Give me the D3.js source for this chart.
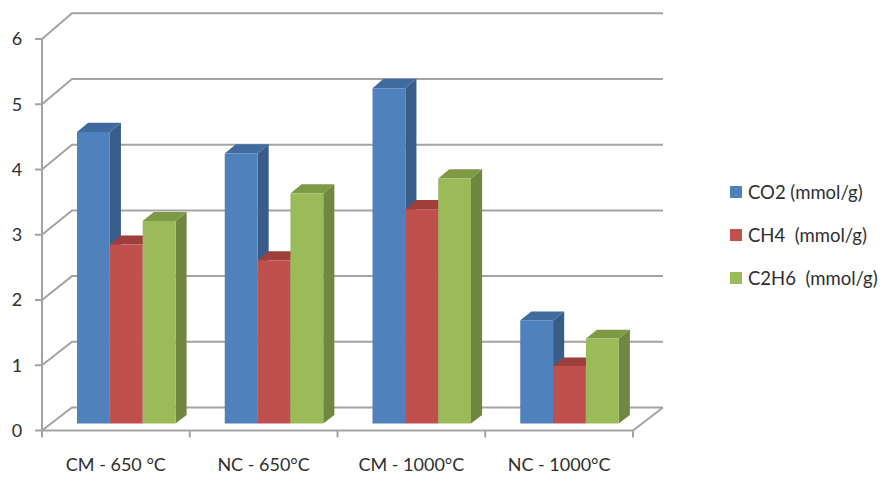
<!DOCTYPE html>
<html>
<head>
<meta charset="utf-8">
<script src="https://cdn.jsdelivr.net/npm/d3@7"></script>
<style>
  html, body { margin: 0; padding: 0; background: #fff; }
  svg { display: block; font-family: Lato, "Open Sans", sans-serif; }
</style>
</head>
<body>
<svg id="chart" width="882" height="477"></svg>
<script>
// Gas yields per sample (mmol/g)
const categories = ["CM - 650 °C", "NC - 650°C", "CM - 1000°C", "NC - 1000°C"];
const seriesNames = ["CO2 (mmol/g)", "CH4  (mmol/g)", "C2H6  (mmol/g)"];
const co2 = [4.46, 4.13, 5.13, 1.58];
const ch4 = [2.74, 2.50, 3.28, 0.88];
const c2h6 = [3.10, 3.52, 3.75, 1.30];
const yTicks = [0, 1, 2, 3, 4, 5, 6];

const seriesValues = [co2, ch4, c2h6];
const palette = [
  { front: "#4F81BD", side: "#385D8A", top: "#3F6B9F" },
  { front: "#C0504D", side: "#8C3A38", top: "#9E3F3C" },
  { front: "#9BBB59", side: "#6F873E", top: "#7E9A45" }
];

const svg = d3.select("#chart");

// Front plane and back wall of the 3D box
const x = d3.scaleBand().domain(categories).range([42, 633]);
const y = d3.scaleLinear().domain([0, 6]).range([430.5, 39]);
const yBack = d3.scaleLinear().domain([0, 6]).range([407.5, 13.3]);
const depthX = d3.scaleLinear().domain([0, 1]).range([0, 30]);

// point at value v, front-plane x position px, depth fraction d (0 = front, 1 = back)
function proj(px, v, d) {
  return [px + depthX(d), y(v) + d * (yBack(v) - y(v))];
}

const gridColor = "#A3A3A3";
const textColor = "#2e2e2e";

// back wall gridlines and side-wall diagonals
const grid = svg.append("g").attr("stroke", gridColor).attr("stroke-width", 2).attr("fill", "none");
yTicks.forEach(t => {
  const a = proj(42, t, 0), b = proj(42, t, 1), c = proj(633, t, 1);
  grid.append("path").attr("d", `M${a[0]},${a[1]}L${b[0]},${b[1]}L${c[0]},${c[1]}`);
});
// floor right edge
{
  const a = proj(633, 0, 0), b = proj(633, 0, 1);
  grid.append("path").attr("d", `M${a[0]},${a[1]}L${b[0]},${b[1]}`);
}

// front axes
const axisG = svg.append("g").attr("stroke", gridColor).attr("stroke-width", 2).attr("fill", "none");
axisG.append("line").attr("x1", 42).attr("x2", 42).attr("y1", y(6)).attr("y2", y(0));
axisG.append("line").attr("x1", 42).attr("x2", 633).attr("y1", y(0)).attr("y2", y(0));
yTicks.forEach(t => {
  axisG.append("line").attr("x1", 35).attr("x2", 42).attr("y1", y(t)).attr("y2", y(t));
});
const catEdges = categories.map(c => x(c)).concat([x.range()[1]]);
catEdges.forEach(px => {
  axisG.append("line").attr("x1", px).attr("x2", px).attr("y1", y(0)).attr("y2", y(0) + 7);
});

// y tick labels
svg.append("g").selectAll("text").data(yTicks).join("text")
  .attr("x", 17).attr("y", d => y(d)).attr("dy", "0.36em")
  .attr("text-anchor", "middle").attr("font-size", 18).attr("fill", textColor)
  .text(d => d);

// category labels
svg.append("g").selectAll("text").data(categories).join("text")
  .attr("x", d => x(d) + x.bandwidth() / 2).attr("y", 471)
  .attr("text-anchor", "middle").attr("font-size", 18).attr("fill", textColor)
  .style("white-space", "pre")
  .text(d => d);

// bars
const inner = d3.scaleBand().domain(d3.range(seriesNames.length)).range([26, 26 + 98.5]);
const d0 = 0.3, d1 = 0.67;
const barsG = svg.append("g");
categories.forEach((cat, ci) => {
  seriesValues.forEach((vals, si) => {
    const v = vals[ci];
    const xl = x(cat) + inner(si);
    const xr = xl + inner.bandwidth();
    const col = palette[si];
    const fl0 = proj(xl, 0, d0), fr0 = proj(xr, 0, d0);
    const flv = proj(xl, v, d0), frv = proj(xr, v, d0);
    const blv = proj(xl, v, d1), brv = proj(xr, v, d1), br0 = proj(xr, 0, d1);
    const g = barsG.append("g");
    g.append("path").attr("fill", col.side)
      .attr("d", `M${frv}L${brv}L${br0}L${fr0}Z`);
    g.append("path").attr("fill", col.top)
      .attr("d", `M${flv}L${frv}L${brv}L${blv}Z`);
    g.append("path").attr("fill", col.front)
      .attr("d", `M${fl0}L${flv}L${frv}L${fr0}Z`);
  });
});

// legend
const legend = svg.append("g");
seriesNames.forEach((name, i) => {
  const cy = 192 + i * 43;
  legend.append("rect").attr("x", 730).attr("y", cy - 6).attr("width", 12).attr("height", 12)
    .attr("fill", palette[i].front);
  legend.append("text").attr("x", 748).attr("y", cy).attr("dy", "0.36em")
    .attr("font-size", 18.5).attr("fill", textColor).style("white-space", "pre")
    .text(name);
});
</script>
</body>
</html>
